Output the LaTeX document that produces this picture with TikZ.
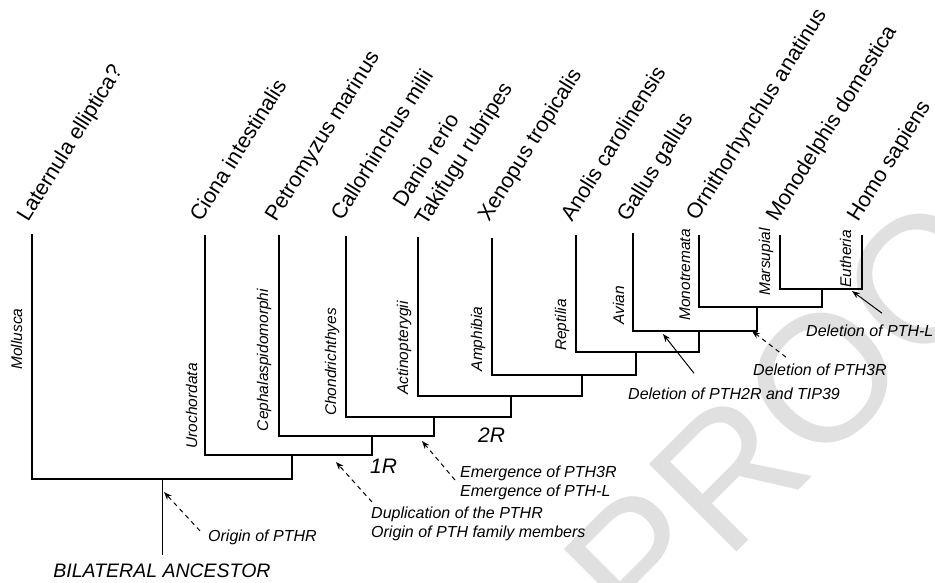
\documentclass[tikz,border=0pt]{standalone}
\usepackage{fontspec}
\setmainfont{Liberation Sans}
\usetikzlibrary{arrows.meta}

\begin{document}
\begin{tikzpicture}[
  x=1pt, y=-1pt,
  every node/.style={inner sep=0pt},
  branch/.style={line width=1.6pt},
  taxon/.style={rotate=58, anchor=base west, font=\fontsize{21.5}{25}\selectfont},
  clade/.style={rotate=90, anchor=base, font=\fontsize{15.5}{18}\selectfont\itshape},
  note/.style={align=left, font=\fontsize{16}{19}\selectfont\itshape},
  event/.style={-{Stealth[length=8pt,width=6pt]}, line width=1pt},
  dashev/.style={event, dash pattern=on 4.5pt off 4pt},
]
  \useasboundingbox (0,0) rectangle (935,582);
  \begin{scope}
    \clip (0,0) rectangle (935,582);
    \node[rotate=45, anchor=base west, text=black!12, font=\fontsize{180}{180}\selectfont] (proofs) at (641,648) {PROOFS};
  \end{scope}

  \coordinate (lat) at (32,234);
  \coordinate (cio) at (205,235);
  \coordinate (pet) at (279,235);
  \coordinate (cal) at (346,236);
  \coordinate (dan) at (418,237);
  \coordinate (xen) at (492,238);
  \coordinate (ano) at (576,235);
  \coordinate (gal) at (633,233);
  \coordinate (orn) at (699,235);
  \coordinate (mon) at (780,235);
  \coordinate (hom) at (862,235);

  \coordinate (j1) at (162,479);
  \coordinate (j2) at (292,455);
  \coordinate (j3) at (372,436);
  \coordinate (j4) at (434,417);
  \coordinate (j5) at (511,396);
  \coordinate (j6) at (582,375);
  \coordinate (j7) at (636,352);
  \coordinate (j8) at (699,331);
  \coordinate (j9) at (757,307);
  \coordinate (j10) at (822,289);

  \draw[branch] (lat) |- (j2 |- j1) -- (j2);
  \draw[branch] (cio) |- (j3 |- j2) -- (j3);
  \draw[branch] (pet) |- (j4 |- j3) -- (j4);
  \draw[branch] (cal) |- (j5 |- j4) -- (j5);
  \draw[branch] (dan) |- (j6 |- j5) -- (j6);
  \draw[branch] (xen) |- (j7 |- j6) -- (j7);
  \draw[branch] (ano) |- (j8 |- j7) -- (j8);
  \draw[branch] (gal) |- (j9 |- j8) -- (j9);
  \draw[branch] (orn) |- (j10 |- j9) -- (j10);
  \draw[branch] (mon) |- (hom |- j10) -- (hom);

  \node[taxon] (laternula) at (28,223) {Laternula elliptica?};
  \node[taxon] (ciona) at (201,223) {Ciona intestinalis};
  \node[taxon] (petromyzus) at (276,223) {Petromyzus marinus};
  \node[taxon] (callorhinchus) at (342,222) {Callorhinchus milii};
  \node[taxon] (danio) at (404,209) {Danio rerio};
  \node[taxon] (takifugu) at (426,227) {Takifugu rubripes};
  \node[taxon] (xenopus) at (489,223) {Xenopus tropicalis};
  \node[taxon] (anolis) at (572,223) {Anolis carolinensis};
  \node[taxon] (gallus) at (628,223) {Gallus gallus};
  \node[taxon] (ornithorhynchus) at (697,222) {Ornithorhynchus anatinus};
  \node[taxon] (monodelphis) at (777,223) {Monodelphis domestica};
  \node[taxon] (homo) at (858,223) {Homo sapiens};

  \node[clade] (mollusca) at (22,339) {Mollusca};
  \node[clade] (urochordata) at (197,406) {Urochordata};
  \node[clade] (cephalaspidomorphi) at (268,360) {Cephalaspidomorphi};
  \node[clade] (chondrichthyes) at (336,362) {Chondrichthyes};
  \node[clade] (actinopterygii) at (408,348) {Actinopterygii};
  \node[clade] (amphibia) at (482,339) {Amphibia};
  \node[clade] (reptilia) at (566,325) {Reptilia};
  \node[clade] (avian) at (624,305) {Avian};
  \node[clade] (monotremata) at (690,275) {Monotremata};
  \node[clade] (marsupial) at (770,262) {Marsupial};
  \node[clade] (eutheria) at (851,259) {Eutheria};

  \node[anchor=base, font=\fontsize{19.5}{23}\selectfont\itshape] (ancestor) at (162,577) {BILATERAL ANCESTOR};
  \draw[line width=1pt] (j1) -- ([yshift=8pt]ancestor.north);

  \node[anchor=base west, font=\fontsize{21}{25}\selectfont\itshape] (oneR) at (370,473) {1R};
  \node[anchor=base west, font=\fontsize{21}{25}\selectfont\itshape] (twoR) at (478,442) {2R};

  \node[note, anchor=base west] (origin) at (208,541) {Origin of PTHR};
  \node[note, anchor=north west] (dupl) at (371,507) {Duplication of the PTHR\\Origin of PTH family members};
  \node[note, anchor=north west] (emerg) at (460,466) {Emergence of PTH3R\\Emergence of PTH-L};
  \node[note, anchor=base west] (delA) at (628,399) {Deletion of PTH2R and TIP39};
  \node[note, anchor=base west] (delB) at (753,375) {Deletion of PTH3R};
  \node[note, anchor=base west] (delC) at (806,336) {Deletion of PTH-L};

  \coordinate (hitorigin) at (164,492);
  \coordinate (hitdupl) at (336,462);
  \coordinate (hitemerg) at (422,441);
  \coordinate (hitdelA) at (663,334);
  \coordinate (hitdelB) at (752,331);
  \coordinate (hitdelC) at (852,291);

  \draw[dashev] ([xshift=-8pt,yshift=6pt]origin.west) -- (hitorigin);
  \draw[dashev] ([xshift=1pt,yshift=5pt]dupl.north west) -- (hitdupl);
  \draw[dashev] ([xshift=-5pt,yshift=-14pt]emerg.north west) -- (hitemerg);
  \draw[event] ([xshift=66pt,yshift=14pt]delA.north west) -- (hitdelA);
  \draw[dashev] ([xshift=33pt,yshift=6pt]delB.north west) -- (hitdelB);
  \draw[event] ([xshift=76pt,yshift=11pt]delC.north west) -- (hitdelC);
\end{tikzpicture}
\end{document}
